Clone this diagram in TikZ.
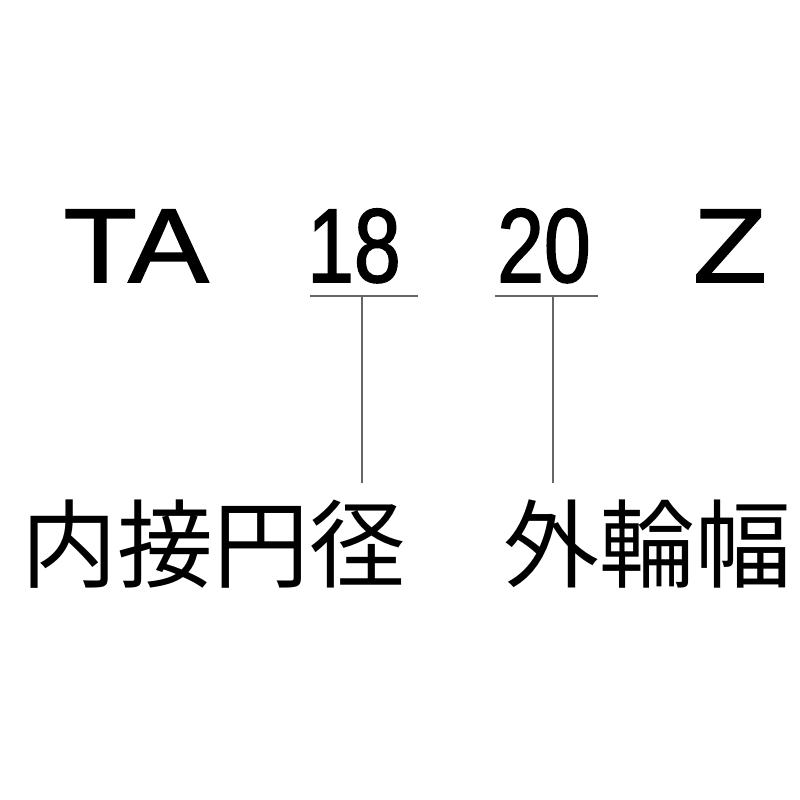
\documentclass[tikz,border=0pt]{standalone}
\usepackage{fontspec}
\setmainfont{Liberation Sans}
\newfontfamily\letterfont[FakeStretch=1.15,FakeBold=1.5]{Liberation Sans}
\newfontfamily\digitfont[FakeStretch=0.8,FakeBold=1.5]{Liberation Sans}
\newfontfamily\cjk{Noto Sans CJK JP}
\tikzset{
  code/.style={inner sep=0pt, anchor=base, font=\letterfont\fontsize{105}{105}\selectfont},
  num/.style={inner sep=0pt, anchor=base, font=\digitfont\fontsize{105}{105}\selectfont},
  jlabel/.style={inner sep=0pt, anchor=base, font=\cjk\fontsize{96}{96}\selectfont},
  uline/.style={draw=black!60, line width=2pt},
  lead/.style={draw=black!60, line width=1.5pt}
}
\begin{document}
\begin{tikzpicture}[x=1pt,y=-1pt]
\useasboundingbox (0,0) rectangle (800,800);
\node[code] (ta) at (136,282) {TA};
\node[num] (n18) at (354,282) {18};
\node[num] (n20) at (544,282) {20};
\node[code] (z) at (730,282) {Z};
\coordinate (u18a) at (310,296);
\coordinate (u18b) at (418,296);
\coordinate (u20a) at (495,296);
\coordinate (u20b) at (598,296);
\coordinate (m18) at (362,296);
\coordinate (m20) at (553,296);
\coordinate (e18) at (362,483);
\coordinate (e20) at (553,483);
\node[jlabel] (l1) at (213,580) {内接円径};
\node[jlabel] (l2) at (647,580) {外輪幅};
\draw[uline] (u18a) -- (u18b);
\draw[uline] (u20a) -- (u20b);
\draw[lead] (m18) -- (e18);
\draw[lead] (m20) -- (e20);
\end{tikzpicture}
\end{document}
